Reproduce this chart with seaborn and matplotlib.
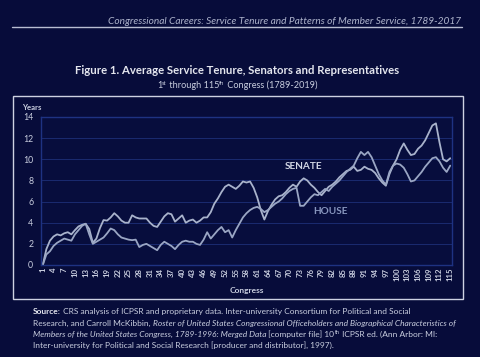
import numpy as np
import pandas as pd
import matplotlib
matplotlib.use("Agg")
import matplotlib.pyplot as plt
from matplotlib.patches import Rectangle
from matplotlib.lines import Line2D
import seaborn as sns

# average years of service, 1st..115th Congress
congress = list(range(1, 116))
senate = [0, 1.5, 2.3, 2.7, 2.9, 2.8, 3.0, 3.1, 2.9, 3.3,
          3.65, 3.8, 3.9, 3.4, 2.1, 2.5, 3.5, 4.25, 4.2, 4.5,
          4.9, 4.6, 4.2, 4.0, 4.0, 4.7, 4.5, 4.4, 4.4, 4.4,
          4.0, 3.7, 3.6, 4.1, 4.6, 4.9, 4.8, 4.1, 4.4, 4.7,
          4.0, 4.2, 4.3, 4.0, 4.2, 4.5, 4.5, 5.0, 5.8, 6.3,
          6.9, 7.4, 7.6, 7.4, 7.2, 7.5, 7.9, 7.8, 7.9, 7.3,
          6.4, 5.2, 4.3, 5.1, 5.7, 6.2, 6.5, 6.6, 6.9, 7.3,
          7.6, 7.4, 7.9, 8.2, 8.0, 7.6, 7.3, 6.9, 6.6, 7.0,
          7.4, 7.6, 7.9, 8.3, 8.6, 8.9, 9.0, 9.3, 8.9, 9.0,
          9.3, 9.1, 9.0, 8.7, 8.2, 7.8, 7.5, 8.6, 9.4, 10.0,
          10.9, 11.5, 10.9, 10.4, 10.5, 11.0, 11.3, 11.8, 12.5, 13.2,
          13.4, 11.6, 10.0, 9.8, 10.1]
house = [0, 1.0, 1.3, 1.8, 2.1, 2.3, 2.5, 2.4, 2.3, 2.9,
         3.3, 3.7, 3.9, 2.9, 2.0, 2.2, 2.4, 2.6, 3.0, 3.45,
         3.3, 2.9, 2.6, 2.5, 2.4, 2.35, 2.4, 1.7, 1.9, 2.0,
         1.8, 1.6, 1.4, 1.9, 2.2, 2.0, 1.8, 1.5, 1.9, 2.2,
         2.3, 2.2, 2.2, 2.0, 1.9, 2.4, 3.1, 2.5, 2.9, 3.3,
         3.6, 3.1, 3.3, 2.6, 3.3, 3.9, 4.5, 4.9, 5.2, 5.4,
         5.5, 5.3, 5.0, 5.2, 5.5, 5.8, 6.0, 6.3, 6.7, 7.0,
         7.2, 7.3, 5.6, 5.6, 6.0, 6.4, 6.7, 6.6, 6.9, 7.2,
         7.0, 7.4, 7.7, 8.0, 8.4, 8.8, 9.1, 9.4, 10.1, 10.7,
         10.4, 10.7, 10.2, 9.4, 8.6, 8.0, 7.6, 8.8, 9.4, 9.6,
         9.5, 9.2, 8.6, 7.9, 8.0, 8.4, 8.8, 9.3, 9.7, 10.1,
         10.2, 9.8, 9.2, 8.8, 9.4]
xtick_vals = list(range(1, 116, 3))
ytick_vals = list(range(0, 15, 2))

bg = "#070c3a"
txt = "#c9cedf"
line_col = "#a9b3cc"

sns.set_style("dark", {"axes.facecolor": "#070d3d", "figure.facecolor": bg,
                       "grid.color": "#1a2a70", "axes.edgecolor": "#1e3282"})
plt.rcParams["font.family"] = ["Lato", "DejaVu Sans"]

df = pd.DataFrame({"congress": congress, "Senate": senate, "House": house})

fig = plt.figure(figsize=(4.8, 3.57), dpi=100)
ax = fig.add_axes([41 / 480, 1 - 265 / 357, 411 / 480, 148 / 357])

sns.lineplot(data=df, x="congress", y="Senate", ax=ax, color=line_col, lw=1.3)
sns.lineplot(data=df, x="congress", y="House", ax=ax, color="#9aa6c4", lw=1.3)

ax.set_xlim(0.5, 115.5)
ax.set_ylim(0, 14)
ax.set_xticks(xtick_vals)
ax.set_xticklabels([str(v) for v in xtick_vals], rotation=90, fontsize=5.6,
                   color=txt, fontweight="bold")
ax.set_yticks(ytick_vals)
ax.set_yticklabels([str(v) for v in ytick_vals], fontsize=6.3, color=txt)
ax.tick_params(axis="x", length=0, pad=2)
ax.tick_params(axis="y", length=0, pad=5.5)
ax.grid(axis="y", lw=0.7)
ax.grid(axis="x", visible=False)
for s in ax.spines.values():
    s.set_linewidth(1.0)
ax.set_xlabel("Congress", fontsize=6, color=txt, fontweight="bold", labelpad=4)
ax.set_ylabel("")

ax.text(73.9, 9.3, "SENATE", color="#d0d4e2", fontsize=7.2, fontweight="bold",
        ha="center", va="center")
ax.text(81.5, 5.1, "HOUSE", color="#8795bd", fontsize=7.2, fontweight="bold",
        ha="center", va="center")

# outer frame and header rule
fig.patches.append(Rectangle((13 / 480, 1 - 299 / 357), 450 / 480, 203 / 357,
                             transform=fig.transFigure, fill=False,
                             ec="#cdd2e2", lw=1.0))
fig.lines.append(Line2D([12 / 480, 462 / 480], [1 - 27 / 357] * 2,
                        transform=fig.transFigure, color="#b8bdd2", lw=1.0))

fig.text(461 / 480, 1 - 22 / 357,
         "Congressional Careers: Service Tenure and Patterns of Member Service, 1789-2017",
         ha="right", va="center", fontsize=7.3, style="italic", color="#aeb4cc")
fig.text(237 / 480, 1 - 70 / 357,
         "Figure 1. Average Service Tenure, Senators and Representatives",
         ha="center", va="center", fontsize=8.2, fontweight="bold", color="#e4e6ee")
fig.text(22 / 480, 1 - 107 / 357, "Years", fontsize=5.6, fontweight="bold",
         color=txt, va="center")

renderer = fig.canvas.get_renderer()


def runs(x, y, parts, size):
    # draw text pieces one after another on a baseline, x/y in pixels
    for piece in parts:
        s, kw = piece[0], dict(piece[1]) if len(piece) > 1 else {}
        fs = kw.pop("fs", size)
        dy = kw.pop("dy", 0)
        t = fig.text(x / 480, 1 - (y - dy) / 357, s, fontsize=fs, color=kw.pop("color", txt),
                     va="baseline", ha="left", **kw)
        x += t.get_window_extent(renderer).width


def runs_width(parts, size):
    w = 0
    for piece in parts:
        s, kw = piece[0], dict(piece[1]) if len(piece) > 1 else {}
        t = fig.text(0, 0, s, fontsize=kw.get("fs", size))
        w += t.get_window_extent(renderer).width
        t.remove()
    return w


sub = [("1",), ("st", {"fs": 4.2, "dy": 3}), (" through 115",),
       ("th", {"fs": 4.2, "dy": 3}), (" Congress (1789-2019)",)]
wsub = runs_width(sub, 6.6)
runs(237 - wsub / 2, 88, sub, 6.6)

fs_src = 6.0
runs(33, 314, [("Source:", {"fontweight": "bold", "color": "#e6e8f0"}),
               (" CRS analysis of ICPSR and proprietary data. Inter-university Consortium for Political and Social",)],
     fs_src)
runs(33, 326, [("Research, and Carroll McKibbin, ",),
               ("Roster of United States Congressional Officeholders and Biographical Characteristics of",
                {"style": "italic"})], fs_src)
runs(33, 337, [("Members of the United States Congress, 1789-1996: Merged Data", {"style": "italic"}),
               (" [computer file] 10",), ("th", {"fs": 4.0, "dy": 2.5}),
               (" ICPSR ed. (Ann Arbor: MI:",)], fs_src)
runs(33, 348, [("Inter-university for Political and Social Research [producer and distributor], 1997).",)],
     fs_src)

fig.savefig("out.png", dpi=100, facecolor=bg)
